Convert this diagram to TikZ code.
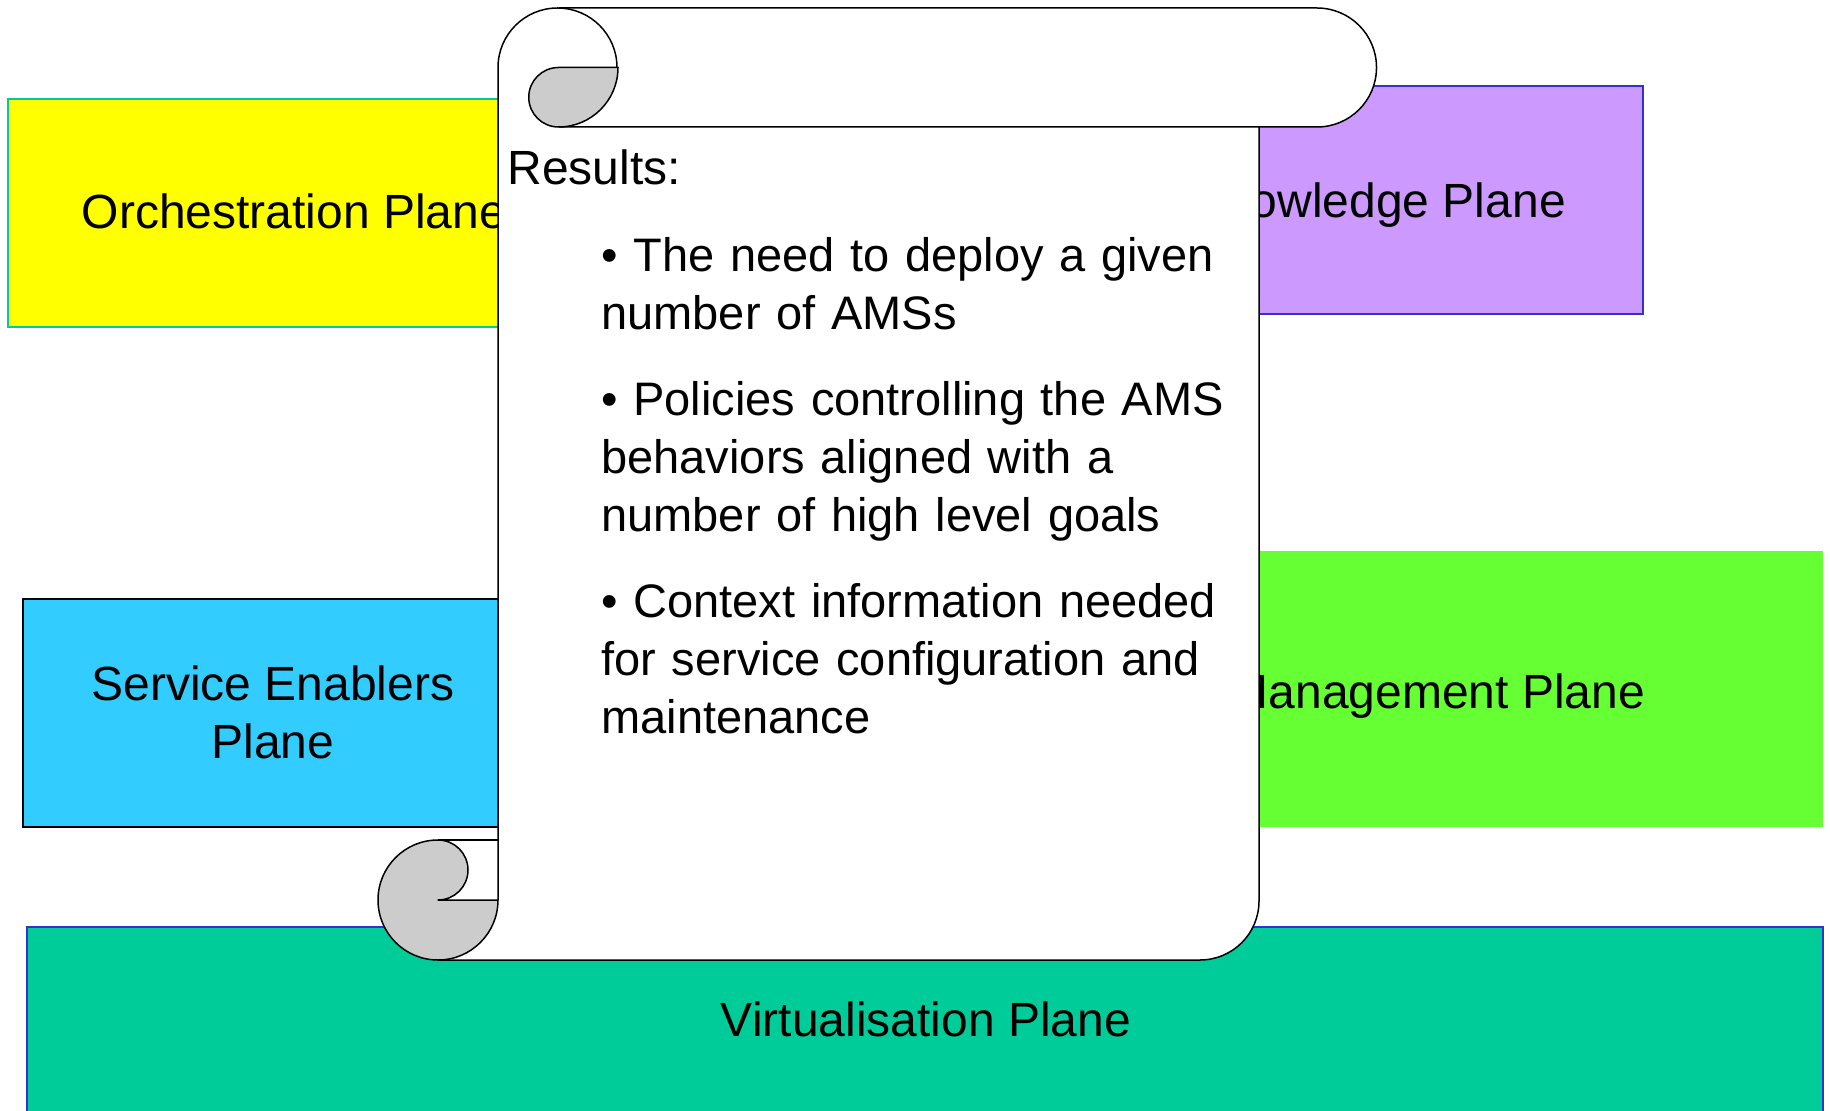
\documentclass[tikz,border=0pt]{standalone}
\usepackage{fontspec}
\setmainfont{Liberation Sans}
\usepackage{xcolor}
\usepackage{tikz}
\usetikzlibrary{calc}
\definecolor{orchfill}{HTML}{FFFF00}
\definecolor{orchline}{HTML}{00CC99}
\definecolor{knowfill}{HTML}{CC99FF}
\definecolor{blueline}{HTML}{3333CC}
\definecolor{mgmtfill}{HTML}{66FF33}
\definecolor{servfill}{HTML}{33CCFF}
\definecolor{virtfill}{HTML}{00CC99}
\definecolor{curl}{HTML}{CCCCCC}
\tikzset{
  plane/.style={line width=0.6pt},
  scroll/.style={draw=black, line width=0.75pt, line join=round},
  lab/.style={text=black, inner sep=0pt, font=\fontsize{24}{28.75}\selectfont},
  labs/.style={text=black, inner sep=0pt, font=\fontsize{23.5}{29}\selectfont},
}

\begin{document}
\begin{tikzpicture}[x=0.5pt, y=0.5pt]
  \useasboundingbox (0,0) rectangle (1830,1110);

  % planes
  \draw[plane, draw=orchline, fill=orchfill] (8,783) rectangle (580,1011);
  \draw[plane, draw=blueline, fill=knowfill] (1111,796) rectangle (1643,1024);
  \draw[plane, draw=black, fill=servfill] (23,283) rectangle (523,511);
  \draw[plane, draw=mgmtfill, fill=mgmtfill] (1048,284) rectangle (1822,558);
  \draw[plane, draw=blueline, fill=virtfill] (27,-5) rectangle (1823,183);

  \node[lab, anchor=base] (orch) at (294,881) {Orchestration Plane};
  \node[lab, anchor=base] (know) at (1379,892) {Knowledge Plane};
  \node[lab, anchor=base] (serv) at (273,410) {Service Enablers};
  \node[lab, anchor=base] (servb) at (273,351.7) {Plane};
  \node[lab, anchor=base] (mgmt) at (1437,402) {Management Plane};
  \node[lab, anchor=base] (virt) at (926,74) {Virtualisation Plane};

  % scroll
  \pgfmathsetmacro{\R}{59.5}
  \fill[white] (498,1042.5) arc[start angle=180, end angle=90, radius=\R]
    -- (1317,1102) arc[start angle=90, end angle=-90, radius=\R]
    -- (1259,983) -- (1259,209) arc[start angle=0, end angle=-90, radius=59]
    -- (498,150) -- cycle;
  \fill[white] (438,150) rectangle (498,270);

  \draw[scroll] (498,210) -- (498,1042.5) arc[start angle=180, end angle=0, radius=\R];
  \draw[scroll] (558.5,1102) -- (1317,1102) arc[start angle=90, end angle=-90, radius=\R] -- (558.5,983);
  \draw[scroll] (1259,983) -- (1259,209) arc[start angle=0, end angle=-90, radius=59] -- (438,150);
  \draw[scroll] (438,270) -- (498,270);

  \draw[scroll, fill=curl] (558.5,1042.5) -- (618,1042.5)
    arc[start angle=0, end angle=-90, radius=\R]
    arc[start angle=-90, end angle=-270, radius=\R/2] -- cycle;
  \draw[scroll, fill=curl] (438,270) arc[start angle=90, end angle=360, radius=60]
    -- (438,210) arc[start angle=-90, end angle=90, radius=30] -- cycle;

  % scroll text
  \node[lab, anchor=base west] (res) at (507,925) {Results:};
  \node[labs, anchor=base west, text width=360pt, align=left] (items) at (601,838)
    {\textbullet{} The need to deploy a given\\
     number of AMSs\\[14pt]
     \textbullet{} Policies controlling the AMS\\
     behaviors aligned with a\\
     number of high level goals\\[14pt]
     \textbullet{} Context information needed\\
     for service configuration and\\
     maintenance};
\end{tikzpicture}
\end{document}
